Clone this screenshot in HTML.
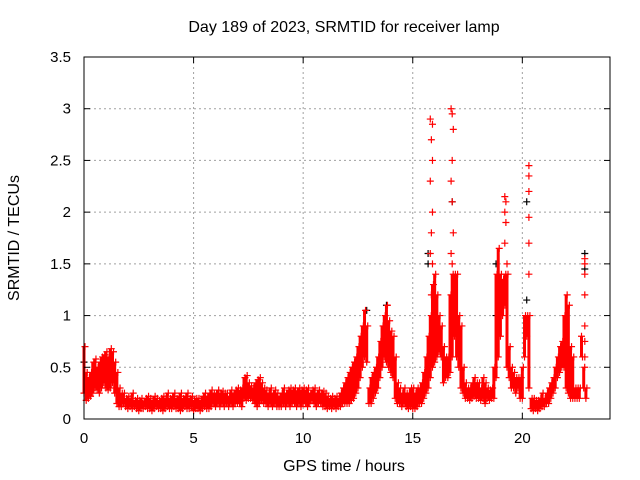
<!DOCTYPE html>
<html><head><meta charset="utf-8"><style>
body{margin:0;background:#fff;}
svg{display:block;font-family:"Liberation Sans",sans-serif;}
</style></head><body>
<svg id="c" width="640" height="480">
<text x="344" y="32" text-anchor="middle" font-size="16">Day 189 of 2023, SRMTID for receiver lamp</text>
<text x="344" y="471" text-anchor="middle" font-size="16">GPS time / hours</text>
<text transform="translate(19,238) rotate(-90)" text-anchor="middle" font-size="16">SRMTID / TECUs</text>
<g id="grid"></g><g id="marks"></g><g id="axes"></g>
</svg>
<script>
const xTicks=[0,5,10,15,20];
const yTicks=[0,0.5,1,1.5,2,2.5,3,3.5];
const yTickLabels=["0","0.5","1","1.5","2","2.5","3","3.5"];
const step=0.1;
const lo=[.25,.18,.2,.22,.25,.3,.28,.25,.3,.35,
.3,.28,.3,.35,.25,.15,.12,.12,.15,.12,
.1,.12,.1,.12,.1,.08,.1,.1,.12,.1,
.1,.08,.1,.12,.1,.1,.08,.1,.12,.1,
.1,.12,.1,.1,.08,.1,.12,.1,.1,.12,
.08,.1,.1,.08,.1,.12,.1,.1,.12,.15,
.12,.15,.12,.15,.12,.15,.12,.15,.12,.15,
.15,.15,.12,.2,.18,.2,.2,.18,.15,.12,
.15,.18,.15,.15,.12,.15,.12,.15,.12,.12,
.12,.15,.12,.15,.12,.15,.15,.12,.15,.12,
.15,.15,.12,.15,.18,.15,.12,.15,.15,.12,
.12,.1,.12,.1,.12,.1,.12,.12,.15,.15,
.15,.15,.18,.2,.25,.3,.4,.5,.6,.55,
.15,.15,.2,.25,.3,.4,.5,.6,.55,.5,
.45,.4,.2,.15,.15,.12,.15,.12,.1,.12,
.1,.1,.12,.15,.15,.2,.25,.3,.4,.5,
.55,.6,.65,.6,.35,.4,.4,.45,.6,.8,
.6,.5,.3,.25,.2,.2,.18,.2,.22,.2,
.2,.18,.2,.15,.2,.18,.2,.2,.4,.6,
.8,1.0,1.1,.5,.4,.3,.3,.25,.3,.2,
.2,.6,.8,.3,.1,.08,.1,.08,.1,.12,
.12,.15,.15,.2,.25,.3,.4,.45,.5,.5,
.3,.25,.2,.2,.2,.2,.2,.8,.3,.2];
const hi=[.7,.45,.4,.45,.55,.58,.5,.55,.6,.62,
.65,.6,.68,.65,.55,.45,.3,.25,.25,.2,
.22,.2,.25,.18,.2,.18,.2,.17,.2,.22,
.2,.18,.22,.2,.18,.2,.22,.2,.25,.2,
.22,.25,.2,.22,.25,.2,.22,.25,.2,.22,
.18,.2,.2,.18,.22,.25,.22,.25,.28,.25,
.25,.28,.25,.27,.25,.25,.22,.28,.25,.28,
.3,.28,.3,.4,.42,.35,.32,.3,.35,.38,
.4,.35,.3,.28,.25,.3,.25,.28,.25,.22,
.25,.3,.25,.28,.3,.28,.3,.27,.3,.28,
.3,.28,.3,.25,.28,.3,.25,.28,.25,.27,
.25,.22,.2,.22,.2,.22,.2,.25,.3,.35,
.4,.45,.5,.55,.6,.7,.8,.9,1.05,.9,
.3,.4,.45,.5,.6,.75,.9,1.0,1.1,.95,
.85,.8,.6,.35,.3,.25,.3,.25,.25,.3,
.3,.25,.3,.3,.35,.45,.6,.8,1.0,1.3,
1.4,1.2,1.0,.9,.7,.6,.6,1.2,1.4,1.4,
1.4,1.0,.9,.5,.35,.3,.3,.35,.4,.35,
.35,.3,.4,.35,.3,.28,.3,.5,1.4,1.65,
1.4,1.35,1.4,1.4,.7,.5,.45,.4,.4,.4,
.5,1.0,1.0,1.0,.2,.2,.18,.18,.2,.25,
.2,.25,.3,.35,.4,.5,.6,.7,.75,1.0,
1.2,1.1,.7,.6,.3,.3,.3,.6,.5,.3];
const spikeX=[15.8,15.9,15.85,15.9,15.8,15.9,15.85,15.8,15.85,15.9,16.75,16.8,16.85,16.8,16.75,16.8,16.85,16.75,16.8,19.2,19.25,19.2,19.25,19.2,19.3,20.3,20.3,20.3,20.3,20.3,20.3,22.85,22.85,22.85,22.85,22.85,22.85,22.85];
const spikeY=[2.9,2.85,2.7,2.5,2.3,2.0,1.8,1.6,1.2,1.5,3.0,2.95,2.8,2.5,2.3,2.1,1.8,1.6,1.5,2.15,2.1,2.0,1.9,1.7,1.5,2.45,2.35,2.2,1.95,1.7,1.4,1.55,1.5,1.4,1.2,0.9,0.75,0.6];
const blackX=[0,15.7,15.7,16.8,18.8,18.8,20.2,20.2,22.85,22.85,12.9,13.8];
const blackY=[0.55,1.6,1.5,2.1,1.0,1.5,2.1,1.15,1.6,1.45,1.05,1.1];
const L=84,R=610,T=57,B=419,XMAX=24,YMAX=3.5;
const sx=v=>L+v/XMAX*(R-L), sy=v=>B-v/YMAX*(B-T);
const NS="http://www.w3.org/2000/svg";
function mk(tag,attrs,parent){const e=document.createElementNS(NS,tag);for(const k in attrs)e.setAttribute(k,attrs[k]);parent.appendChild(e);return e;}
const grid=document.getElementById('grid'),marks=document.getElementById('marks'),axes=document.getElementById('axes');
xTicks.forEach(t=>{const x=sx(t);
 if(t>0){const g=mk('line',{x1:x,x2:x,y1:T,y2:B,stroke:'#a0a0a0','stroke-dasharray':'2,3'},grid);
 
 }
 mk('line',{x1:x,x2:x,y1:B,y2:B-6,stroke:'#000'},axes);mk('line',{x1:x,x2:x,y1:T,y2:T+6,stroke:'#000'},axes);
 const tx=mk('text',{x:x,y:B+24,'text-anchor':'middle','font-size':15},axes);tx.textContent=t;
 
 });
yTicks.forEach((t,i)=>{const y=sy(t);
 if(t>0&&t<YMAX){const g=mk('line',{x1:L,x2:R,y1:y,y2:y,stroke:'#a0a0a0','stroke-dasharray':'2,3'},grid);
 
 }
 mk('line',{x1:L,x2:L+6,y1:y,y2:y,stroke:'#000'},axes);mk('line',{x1:R,x2:R-6,y1:y,y2:y,stroke:'#000'},axes);
 const tx=mk('text',{x:L-13,y:y+5,'text-anchor':'end','font-size':15},axes);tx.textContent=yTickLabels[i];
 
 });
const fr=mk('rect',{x:L,y:T,width:R-L,height:B-T,fill:'none',stroke:'#000'},axes);


function plus(x,y,c){const p=mk('path',{d:`M${x-3.5},${y}h7M${x},${y-3.5}v7`,stroke:c,'stroke-width':1.2,fill:'none'},marks);return p;}
blackX.forEach((v,i)=>{const p=plus(sx(v),sy(blackY[i]),'#000');
 
 });
lo.forEach((v,i)=>{const x=sx(i*step);
 const b=mk('line',{x1:x,x2:x,y1:sy(v),y2:sy(hi[i]),stroke:'#f00','stroke-width':3},marks);
 
 
 const a=plus(x,sy(v),'#f00');
 
 
 const c=plus(x+1,sy(hi[i]),'#f00');
 
 });
spikeX.forEach((v,i)=>{const p=plus(sx(v),sy(spikeY[i]),'#f00');
 
 });
</script>
</body></html>
